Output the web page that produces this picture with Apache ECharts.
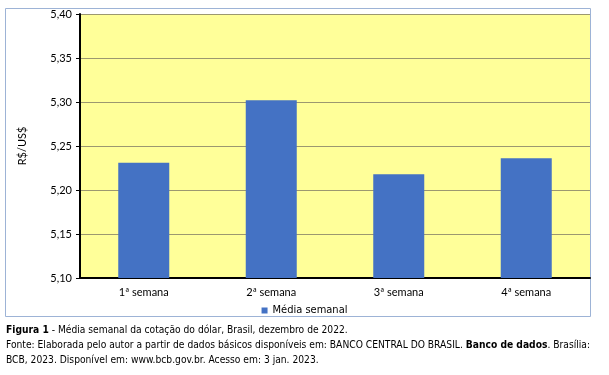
<!DOCTYPE html>
<html><head><meta charset="utf-8">
<script src="https://cdn.jsdelivr.net/npm/echarts@6/dist/echarts.min.js"></script>
<style>html,body{margin:0;padding:0;background:#fff}#c{width:609px;height:375px}</style>
</head><body><div id="c"></div>
<script>
const categories = ['1ª semana', '2ª semana', '3ª semana', '4ª semana'];
const mediaSemanal = [5.231, 5.302, 5.218, 5.236];
const seriesName = 'Média semanal';
const yTicks = { min: 5.10, max: 5.40, interval: 0.05 };
const yAxisName = 'R$/US$';

const chart = echarts.init(document.getElementById('c'), null, { renderer: 'canvas' });
const capFont = '"DejaVu Sans Condensed", "DejaVu Sans", sans-serif';
const capSize = 10.2;
const capStyle = { fontFamily: capFont, fontSize: capSize, fontWeight: 'normal', color: '#000',
  rich: { b: { fontFamily: capFont, fontSize: capSize, fontWeight: 'bold', color: '#000' } } };
chart.setOption({
  animation: false,
  backgroundColor: '#fff',
  graphic: [
    { type: 'rect', shape: { x: 5.5, y: 8.5, width: 585, height: 308 },
      style: { fill: 'none', stroke: '#9db3d6', lineWidth: 1 }, z: 0 }
  ],
  title: [
    { left: 6, top: 325, padding: 0, text: '{b|Figura 1} - Média semanal da cotação do dólar, Brasil, dezembro de 2022.',
      textStyle: capStyle },
    { left: 6, top: 340, padding: 0, text: 'Fonte: Elaborada pelo autor a partir de dados básicos disponíveis em: BANCO CENTRAL DO BRASIL. {b|Banco de dados}. Brasília:',
      textStyle: capStyle },
    { left: 6, top: 355, padding: 0, text: 'BCB, 2023. Disponível em: www.bcb.gov.br. Acesso em: 3 jan. 2023.',
      textStyle: capStyle }
  ],
  legend: {
    data: [seriesName], left: 'center', top: 300, itemWidth: 6, itemHeight: 6, itemGap: 4,
    icon: 'rect', textStyle: { fontFamily: capFont, fontSize: 11, color: '#000' }
  },
  grid: { left: 80, right: 19, top: 14, bottom: 97, show: true, backgroundColor: '#ffff99', borderWidth: 0 },
  xAxis: {
    type: 'category', data: categories,
    axisLine: { lineStyle: { color: '#000', width: 2 } },
    axisTick: { inside: true, length: 3, lineStyle: { color: '#000' } },
    axisLabel: { fontFamily: 'Lato, sans-serif', fontSize: 11, color: '#000', margin: 9 }
  },
  yAxis: {
    type: 'value', min: yTicks.min, max: yTicks.max, interval: yTicks.interval,
    name: yAxisName, nameLocation: 'middle', nameGap: 52, nameRotate: 90,
    nameTextStyle: { fontFamily: 'Lato, sans-serif', fontSize: 11, color: '#000' },
    axisLine: { show: true, lineStyle: { color: '#000', width: 2 } },
    axisTick: { show: true, length: 4, lineStyle: { color: '#000' } },
    axisLabel: { fontFamily: 'Lato, sans-serif', fontSize: 11, color: '#000', margin: 8,
      formatter: v => v.toFixed(2).replace('.', ',') },
    splitLine: { show: true, lineStyle: { color: '#9c9870', width: 1 } }
  },
  series: [{
    name: seriesName, type: 'bar', data: mediaSemanal, barWidth: '40%',
    itemStyle: { color: '#4472c4' }
  }]
});
</script></body></html>
